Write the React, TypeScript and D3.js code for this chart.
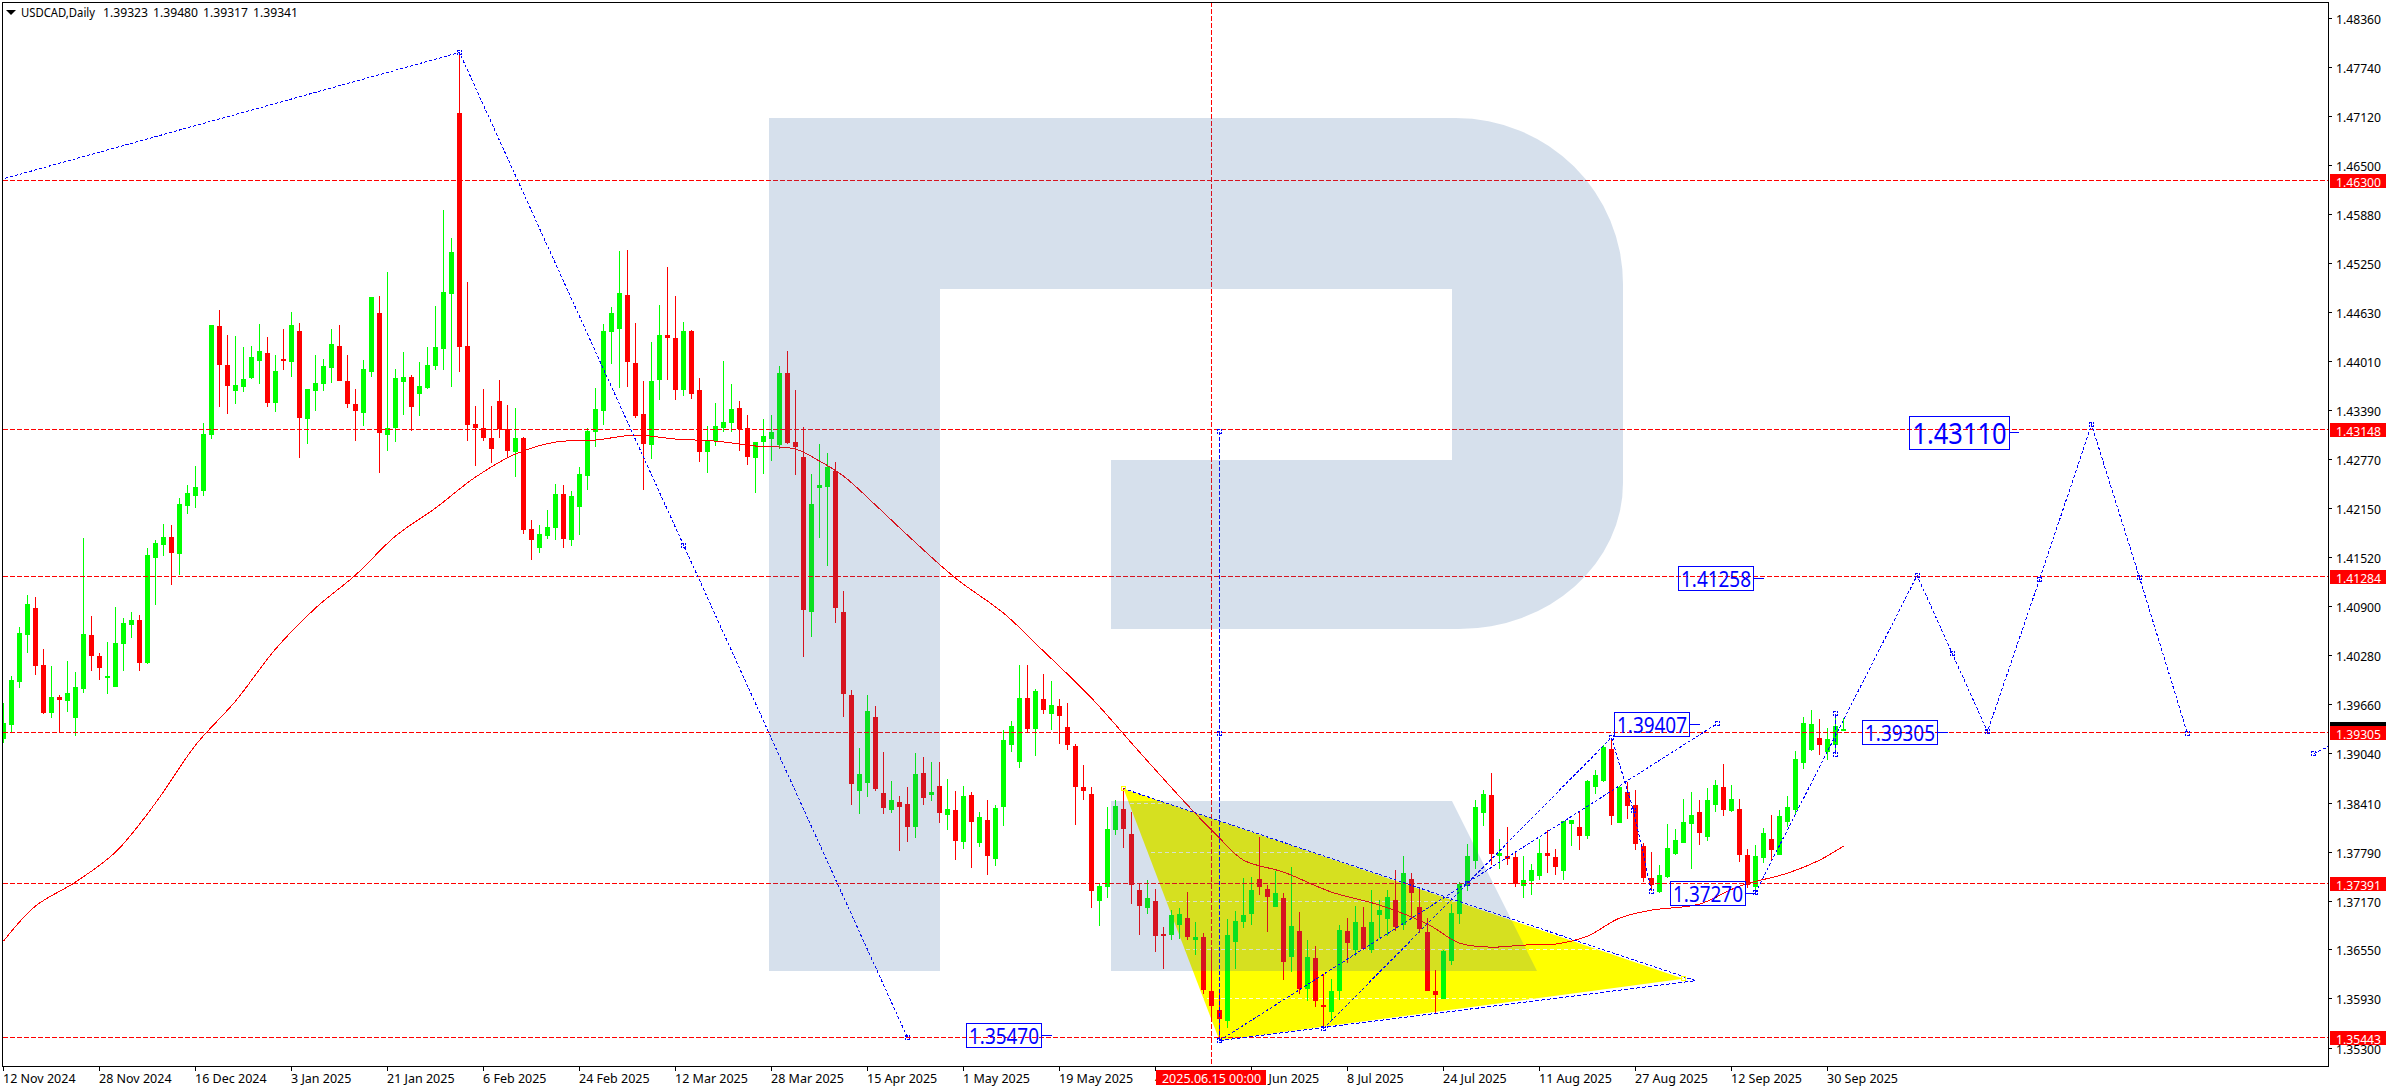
import React from "react";
import * as d3 from "d3";

// Candle values in points (1 point = 0.00001)
const highs = [139673,140016,140637,141043,141017,140358,140142,139775,140205,140067,141766,140776,140307,140447,140890,140751,140827,140789,141639,141740,141943,141931,142273,142438,142679,143224,144467,144657,144340,144327,144187,144200,144479,144314,144087,144416,144632,144492,143655,144087,144036,144416,144467,144087,143655,144023,144821,144834,145139,143909,144125,143833,143998,144187,144708,145925,145570,147891,145012,143440,143655,143440,143769,143453,143415,143047,141994,141931,142121,142450,142438,142361,142666,143161,143667,144479,144695,145405,145418,144492,143756,144251,144721,145202,144834,144505,144403,143795,143186,143478,144010,143718,143503,143326,142983,143275,143326,143947,144137,143642,143174,142577,142957,142844,142730,141093,139838,139102,139775,139635,139052,138684,138494,138608,139039,138988,138925,138925,138709,138557,138621,138545,138291,138443,138380,139330,139444,140155,140155,139851,140041,139952,139724,139673,139153,138887,138608,137391,138355,138443,138595,138291,137391,137429,137315,136833,137048,137074,137277,136896,136757,136528,135996,136934,137035,137454,137467,137974,137365,137543,137264,137594,137023,136668,136592,136236,136173,136858,136947,137099,137086,137302,137175,137302,137555,137733,137517,137340,136947,136287,136541,137125,137404,137885,138443,138570,138786,137949,138101,137796,137733,137632,137949,138063,137822,138177,138190,138304,138697,138824,139140,139216,138621,138672,138570,137898,137784,137619,138139,138075,138456,138545,138443,138595,138697,138899,138633,138456,137822,137872,138088,138253,138316,138494,139065,139495,139584,139470,139356,139495,139480];
const opens = [139216,139394,139940,140536,140878,140155,139546,139749,139698,139483,139851,140536,140269,139991,139876,140421,140663,140726,140180,141512,141677,141778,141562,142171,142298,142361,143072,144454,143960,143629,143680,143795,144010,144112,143478,144036,143998,144390,143275,143629,143718,143922,144200,143756,143465,143351,143871,144619,143072,143161,143744,143807,143591,143668,143947,144162,144859,147155,144200,143211,143161,143034,143503,143148,142857,143034,141880,141639,141791,141892,142323,141740,142158,142552,143110,143376,144378,144416,144847,143985,143338,142945,143769,144340,144302,143642,144390,143642,142857,142995,143161,143224,143415,143161,142781,142983,143021,142945,143858,142983,142793,140827,142400,142412,142615,140827,139775,138557,138659,139495,138532,138316,138418,138393,138101,138786,138507,138621,138253,138316,137910,138507,137898,138190,137695,138355,139140,138925,139737,139343,139724,139533,139635,139369,139128,138608,138519,137162,137340,138063,138329,138012,137302,137074,137162,136744,136731,136858,136947,136668,136706,136021,135780,135640,136642,136896,136997,137442,137315,137086,137200,136452,136782,136047,136439,135844,135755,136021,136782,136541,136833,136541,136985,136934,137175,136858,137442,137086,136770,136021,135920,136401,136997,137353,137670,138279,138507,137733,137733,137720,137353,137416,137479,137771,137720,137543,138139,138101,137987,138608,138684,139090,138152,138545,138380,137860,137454,137277,137467,137758,137898,138139,138291,137974,138380,138608,138304,138329,137746,137340,137708,137949,137746,138164,138316,138912,139077,139229,139052,139140,139323];
const closes = [139419,139965,140561,140928,140142,139546,139749,139711,139800,139876,140548,140269,140117,140016,140434,140688,140726,140180,141550,141702,141778,141575,142196,142336,142412,143084,144467,143960,143693,143706,143782,144061,144137,143478,143883,144023,144467,143288,143655,143731,143947,144225,143756,143465,143376,143909,144821,143097,143161,143795,143807,143427,143693,143960,144187,144885,145393,144187,143199,143161,143034,142894,143148,142869,143034,141867,141740,141816,141905,142323,141753,142298,142577,143123,143402,144390,144619,144872,143998,143313,142957,143756,144340,144302,143642,144390,143591,142857,142995,143186,143237,143402,143148,142793,142983,143059,143110,143858,142970,142920,140852,142196,142438,142666,140878,139787,138646,138773,139571,138583,138342,138443,138355,138101,138773,138469,138545,138279,138329,137923,138494,138164,138228,137733,138342,139204,139381,139737,139343,139825,139584,139648,139508,139140,138608,138557,137289,137353,138075,138367,138075,137365,137099,137200,136719,136719,136985,136997,136706,136706,136034,135831,135666,136731,136909,136985,137302,137340,137213,137264,136389,136845,136047,136452,135894,135818,136021,136795,136630,136896,136554,136896,137048,137213,136833,137517,137264,136807,136021,135971,136528,137010,137378,137733,138355,138519,137758,137771,137695,137378,137429,137555,137771,137733,137594,138177,138190,137987,138684,138760,139115,138240,138608,138367,137885,137454,137365,137492,137834,137936,138164,138253,138025,138443,138633,138316,138456,137746,137365,137733,138025,137809,138240,138355,138963,139419,139406,139140,139216,139381,139341];
const lows = [139165,139292,139864,140307,140029,139533,139483,139305,139559,139254,139800,140079,139965,139787,139876,140079,140498,140079,140167,140916,141537,141170,141297,142070,142146,142298,143021,143427,143338,143465,143617,143782,143718,143427,143364,143896,143807,142781,142957,143376,143629,143731,143756,143415,142995,143186,143807,142590,142869,142983,143326,143122,143313,143655,143896,143896,143680,143871,142995,142679,142995,142717,143034,142781,142539,141816,141487,141575,141753,141740,141639,141664,141803,142374,142920,143199,143972,143667,143680,143288,142374,142768,143516,143769,143516,143566,143528,142730,142590,142933,143110,143110,142869,142692,142336,142577,142742,142894,142957,142565,140256,140510,141766,141411,140688,139495,138380,138266,138481,138557,138266,138279,137796,137910,137961,138380,138431,138152,138063,137682,137822,137581,137847,137492,137606,138114,139052,138849,139292,139001,139533,139330,139153,139077,138126,138443,137074,136845,137200,138000,137834,137125,136731,136997,136516,136300,136668,136681,136668,136478,135983,135653,135400,135551,136300,136820,136858,137238,136770,137086,136160,136262,135983,135894,135818,135577,135640,135907,136376,136465,136541,136503,136693,136719,136782,136795,136960,136757,136021,135742,135920,136351,136871,137289,137568,138114,137619,137568,137619,137340,137200,137238,137429,137517,137492,137429,137860,137809,137949,138519,138672,138126,138152,138202,137809,137404,137289,137264,137454,137746,137898,137568,137872,137923,138291,138240,138291,137657,137327,137302,137645,137670,137746,138101,138266,138836,139065,139014,138950,139077,139317];

// 50-bar moving average, read at selected bars
const maBars = [0,4,9,14,19,24,29,34,39,44,49,54,59,64,69,74,79,84,89,94,99,102,105,109,113,119,125,130,136,142,148,152,155,160,166,172,178,182,186,190,194,198,202,206,212,217,223,227,230];
const maValues = [136655,137099,137404,137784,138406,139140,139698,140358,140878,141297,141791,142146,142539,142831,142983,143008,143072,143021,142995,142933,142894,142742,142552,142184,141803,141258,140814,140332,139737,139052,138380,137961,137682,137530,137277,137112,136871,136630,136579,136605,136617,136719,136947,137048,137125,137353,137517,137682,137860];

const title = "USDCAD,Daily";
const ohlcText = ["1.39323", "1.39480", "1.39317", "1.39341"];
const priceTicks = ["1.48360","1.47740","1.47120","1.46500","1.45880","1.45250","1.44630","1.44010","1.43390","1.42770","1.42150","1.41520","1.40900","1.40280","1.39660","1.39040","1.38410","1.37790","1.37170","1.36550","1.35930","1.35300"];
const dateTicks = ["12 Nov 2024","28 Nov 2024","16 Dec 2024","3 Jan 2025","21 Jan 2025","6 Feb 2025","24 Feb 2025","12 Mar 2025","28 Mar 2025","15 Apr 2025","1 May 2025","19 May 2025","4 Jun 2025","20 Jun 2025","8 Jul 2025","24 Jul 2025","11 Aug 2025","27 Aug 2025","12 Sep 2025","30 Sep 2025"];
const levels = ["1.46300","1.43148","1.41284","1.39305","1.37391","1.35443"];
const lastPrice = "1.39341";
const crosshairBar = 151;
const crosshairText = "2025.06.15 00:00";

// Chart objects as [bar, points]
const zigzagDown = [[-1,146300],[57,147929],[113,135438]];
const midHandleDown = [[85,141677]];
const verticalForecast = [[152,135400],[152,143123]];
const verticalHandles = [[152,139293],[152,143123]];
const triangleFill = [[140,138595],[152,135400],[210,136185]];
const triangleUpper = [[140,138595],[211.5,136160]];
const triangleLower = [[152,135400],[211.5,136160]];
const channelA = [[152,135400],[214.2,139419]];
const channelB = [[165,135551],[201,139241]];
const channelHandles = [[165,135551],[183,137391],[214.2,139419],[201,139241],[152,135400],[206,137290]];
const pullback = [[201,139241],[203.75,138316],[206,137290]];
const forecast = [[219,137277],[239.2,141297],[243.6,140307],[248,139318],[254.5,141246],[261,143211],[267,141271],[273,139292]];
const forecastHandles = [[219,137277],[239.2,141297],[243.6,140307],[248,139318],[254.5,141246],[261,143211],[267,141271],[273,139292],[203.75,138316]];
const lastRange = [[229,139546],[229,139026]];
const tailFragment = [[288.8,139039],[290.6,139128]];

const labelTexts = ["1.35470","1.39407","1.39305","1.37270","1.41258","1.43110"];
const labelEndBars = [129.8,210.7,241.7,217.7,218.7,250.8];
const bigLabel = "1.43110";

const FONT = "Noto Sans";
const BLUE = "#0000ff";
const RED = "#ff0000";
const GREEN = "#00ff00";

const L = 3, R = 2328, T = 2, B = 1066;
const x = d3.scaleLinear().domain([0, 230]).range([3, 1843]);
const y = d3.scaleLinear().domain([148360, 135300]).range([18, 1048]);
const px = (s: string) => Math.round(parseFloat(s) * 100000);

const line = d3.line<number[]>().x(d => x(d[0]) + 0.5).y(d => y(d[1]) + 0.5);
const maLine = d3.line<number>().x((_, i) => x(maBars[i]) + 0.5).y(d => y(d)).curve(d3.curveCatmullRom.alpha(0.5));

function Handle({ p }: { p: number[] }) {
  return <rect x={Math.round(x(p[0])) - 1.5} y={Math.round(y(p[1])) - 1.5} width={4} height={4}
    fill="none" stroke={BLUE} strokeWidth={1} strokeDasharray="2 1" shapeRendering="crispEdges" />;
}

function Dashed({ pts, dash = "3 2" }: { pts: number[][]; dash?: string }) {
  return <path d={line(pts) as string} fill="none" stroke={BLUE} strokeWidth={1} strokeDasharray={dash} shapeRendering="crispEdges" />;
}

export default function App() {
  const triPath = line(triangleFill) + "Z";
  return (
    <svg width={2392} height={1090} style={{ position: "fixed", left: 0, top: 0, display: "block", background: "#fff" }}
      fontFamily={FONT}>
      <defs>
        <clipPath id="plot"><rect x={L} y={T + 1} width={R - L} height={B - T - 1} /></clipPath>
        <clipPath id="tri"><path d={triPath} /></clipPath>
      </defs>
      <g clipPath="url(#plot)">
        <path d={triPath} fill="#ffff00" />
        <g clipPath="url(#tri)">
          {priceTicks.map(t => (
            <line key={t} x1={L} x2={R} y1={Math.round(y(px(t))) + 0.5} y2={Math.round(y(px(t))) + 0.5}
              stroke="#ffffff" strokeDasharray="4 3" opacity={0.85} />
          ))}
        </g>
        {highs.map((h, i) => {
          const up = closes[i] >= opens[i];
          const col = up ? GREEN : RED;
          const cx = Math.round(x(i));
          const top = Math.round(y(Math.max(opens[i], closes[i])));
          const bot = Math.round(y(Math.min(opens[i], closes[i])));
          const hy = Math.round(y(h));
          const ly = Math.round(y(lows[i]));
          return (
            <g key={i} fill={col} shapeRendering="crispEdges">
              <rect x={cx} y={hy} width={1} height={Math.max(ly - hy, 1)} />
              <rect x={cx - 2} y={top} width={5} height={Math.max(bot - top, 2)} />
            </g>
          );
        })}
        <path d={maLine(maValues) as string} fill="none" stroke={RED} strokeWidth={1} shapeRendering="crispEdges" />
        {levels.map(l => (
          <line key={l} x1={L} x2={R} y1={Math.round(y(px(l))) + 0.5} y2={Math.round(y(px(l))) + 0.5}
            stroke={RED} strokeDasharray="5 2" shapeRendering="crispEdges" />
        ))}
        <line x1={x(crosshairBar) + 0.5} x2={x(crosshairBar) + 0.5} y1={T} y2={B} stroke={RED}
          strokeDasharray="5 2" shapeRendering="crispEdges" />
        <Dashed pts={zigzagDown} />
        <Dashed pts={verticalForecast} dash="4 2" />
        <Dashed pts={triangleUpper} />
        <Dashed pts={triangleLower} dash="4 2" />
        <Dashed pts={channelA} />
        <Dashed pts={channelB} />
        <Dashed pts={pullback} />
        <Dashed pts={forecast} />
        <Dashed pts={lastRange} dash="4 2" />
        <Dashed pts={tailFragment} />
        {[...midHandleDown, zigzagDown[1], zigzagDown[2], ...verticalHandles, ...channelHandles, ...forecastHandles,
          ...lastRange, tailFragment[0]].map((p, i) => <Handle key={i} p={p} />)}
        <rect x={Math.round(x(triangleFill[0][0])) - 2} y={Math.round(y(triangleFill[0][1])) - 2} width={4} height={4}
          fill="none" stroke="#ffff00" shapeRendering="crispEdges" />
        <rect x={Math.round(x(triangleFill[2][0])) - 2} y={Math.round(y(triangleFill[2][1])) - 2} width={4} height={4}
          fill="none" stroke="#ffff00" shapeRendering="crispEdges" />
        {labelTexts.map((t, i) => {
          const big = t === bigLabel;
          const w = big ? 100 : 75;
          const h = big ? 33 : 24;
          const xe = Math.round(x(labelEndBars[i]));
          const yc = Math.round(y(px(t)));
          return (
            <g key={t}>
              <line x1={xe} x2={xe + (big ? 10 : 11)} y1={yc + 0.5} y2={yc + 0.5} stroke={BLUE} shapeRendering="crispEdges" />
              <rect x={xe - w + 0.5} y={yc - h / 2 + 0.5} width={w} height={h} fill="#fff" fillOpacity={0} stroke={BLUE} shapeRendering="crispEdges" />
              <text x={xe - w / 2 + 0.5} y={yc + 0.5} textAnchor="middle" dominantBaseline="central"
                fontSize={big ? 29 : 21} textLength={big ? 94 : 70} lengthAdjust="spacingAndGlyphs" fill={BLUE}>{t}</text>
            </g>
          );
        })}
      </g>

      {/* watermark laid over the plot */}
      <path fill="rgb(50,100,160)" fillOpacity={0.2} fillRule="evenodd"
        d="M769 118H1456A167 166 0 0 1 1623 284V483A164 146 0 0 1 1459 629H1111V460H1452V289H940V971H769Z M1111 801H1452L1537 971H1111Z" />

      {/* frame */}
      <rect x={2.5} y={2.5} width={2326} height={1064} fill="none" stroke="#000" shapeRendering="crispEdges" />

      {/* title */}
      <path d="M6 10H16L11 15Z" fill="#000" />
      <g fontSize={13} fill="#000">
        <text x={21} y={17} textLength={74} lengthAdjust="spacingAndGlyphs">{title}</text>
        {ohlcText.map((t, i) => <text key={t} x={103 + 50 * i} y={17} textLength={45} lengthAdjust="spacingAndGlyphs">{t}</text>)}
      </g>

      {/* price axis */}
      <g fontSize={13} fill="#000">
        {priceTicks.map(t => {
          const ty = Math.round(y(px(t)));
          return (
            <g key={t}>
              <rect x={2329} y={ty} width={3} height={1} shapeRendering="crispEdges" />
              <text x={2336} y={ty + 0.5} dominantBaseline="central" textLength={45} lengthAdjust="spacingAndGlyphs">{t}</text>
            </g>
          );
        })}
      </g>

      {/* time axis */}
      <g fontSize={12.5} fill="#000">
        {dateTicks.map((t, i) => {
          const tx = Math.round(x(i * 12));
          return (
            <g key={t}>
              <rect x={tx} y={1067} width={1} height={4} shapeRendering="crispEdges" />
              <text x={tx} y={1078} dominantBaseline="central">{t}</text>
            </g>
          );
        })}
      </g>

      {/* current price tag and level tags */}
      <rect x={2330} y={Math.round(y(px(lastPrice))) - 7} width={56} height={14} fill="#000" />
      <text x={2336} y={Math.round(y(px(lastPrice))) + 0.5} dominantBaseline="central" fontSize={13} textLength={45} lengthAdjust="spacingAndGlyphs" fill="#fff">{lastPrice}</text>
      {levels.map(l => {
        const ly = Math.round(y(px(l)));
        return (
          <g key={l}>
            <rect x={2330} y={ly - 6} width={56} height={14} fill={RED} />
            <text x={2336} y={ly + 1.5} dominantBaseline="central" fontSize={13} textLength={45} lengthAdjust="spacingAndGlyphs" fill="#fff">{l}</text>
          </g>
        );
      })}

      {/* crosshair date tag */}
      <rect x={1156} y={1070} width={110} height={15} fill={RED} />
      <text x={x(crosshairBar) + 0.5} y={1078} textAnchor="middle" dominantBaseline="central" fontSize={12.5} fill="#fff">{crosshairText}</text>
    </svg>
  );
}
